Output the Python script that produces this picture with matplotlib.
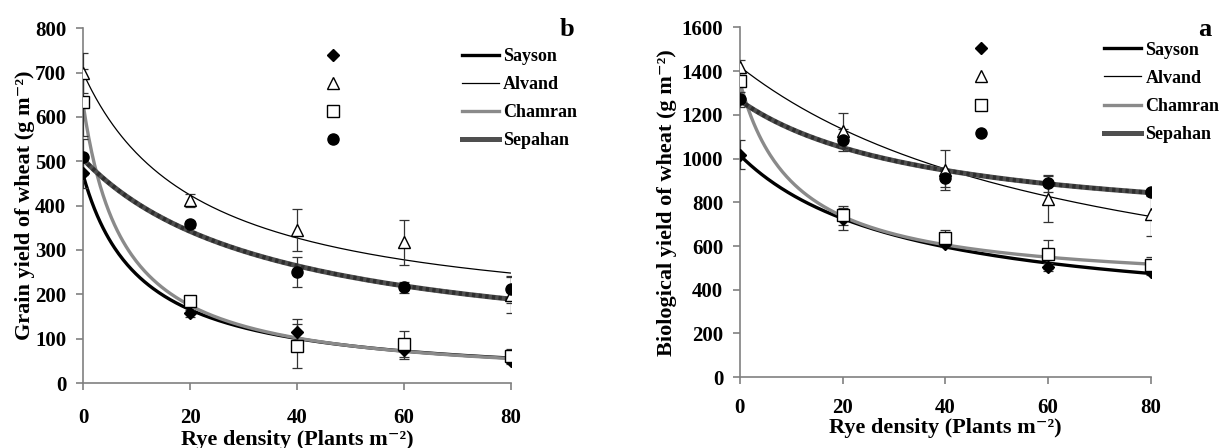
import numpy as np
import matplotlib
matplotlib.use("Agg")
import matplotlib.pyplot as plt
from matplotlib.lines import Line2D

plt.rcParams['font.family'] = ['Liberation Serif', 'DejaVu Serif']
plt.rcParams['font.weight'] = 'bold'

# rye density levels
density = [0, 20, 40, 60, 80]
cultivars = ['Sayson', 'Alvand', 'Chamran', 'Sepahan']

# grain yield (g m-2), panel b
grain = {
    'Sayson':  [474, 157, 114, 74, 50],
    'Alvand':  [699, 412, 345, 317, 198],
    'Chamran': [633, 185, 83, 88, 61],
    'Sepahan': [510, 358, 251, 216, 211],
}
grain_err = {
    'Sayson':  [35, 8, 30, 20, 8],
    'Alvand':  [45, 15, 47, 50, 40],
    'Chamran': [75, 8, 50, 30, 15],
    'Sepahan': [40, 8, 34, 12, 30],
}

# biological yield (g m-2), panel a
bio = {
    'Sayson':  [1018, 725, 610, 504, 481],
    'Alvand':  [1420, 1127, 947, 817, 748],
    'Chamran': [1354, 740, 637, 562, 512],
    'Sepahan': [1270, 1084, 909, 886, 845],
}
bio_err = {
    'Sayson':  [66, 50, 15, 20, 15],
    'Alvand':  [30, 80, 90, 105, 100],
    'Chamran': [20, 45, 35, 65, 40],
    'Sepahan': [35, 50, 40, 40, 15],
}

# fitted hyperbolic yield-loss curves: Y0, I, A
grain_fit = {
    'Sayson':  (470, 9.2, 100),
    'Alvand':  (700, 3.8, 82),
    'Chamran': (630, 13.0, 100),
    'Sepahan': (505, 2.5, 91),
}
bio_fit = {
    'Sayson':  (1015, 2.3, 75),
    'Alvand':  (1420, 1.3, 90),
    'Chamran': (1350, 6.5, 70),
    'Sepahan': (1265, 1.3, 49),
}

line_style = {
    'Sayson':  dict(color='black', lw=2.4),
    'Alvand':  dict(color='black', lw=0.9),
    'Chamran': dict(color='#8a8a8a', lw=2.4),
    'Sepahan': dict(color='#4f4f4f', lw=3.6),
}
marker_style = {
    'Sayson':  dict(marker='D', ms=6, mfc='black', mec='black'),
    'Alvand':  dict(marker='^', ms=9, mfc='white', mec='black', mew=1),
    'Chamran': dict(marker='s', ms=8, mfc='white', mec='black', mew=1),
    'Sepahan': dict(marker='o', ms=8, mfc='black', mec='black'),
}


def cousens(d, y0, i, a):
    return y0 * (1 - i * d / (100 * (1 + i * d / a)))


def panel(ax, vals, errs, fits, ymax, ystep, ylabel, letter, ylab_x, xlab_y,
          xpad, leg_y, let_y):
    d = np.linspace(0, 80, 300)
    for c in cultivars:
        ax.plot(d, cousens(d, *fits[c]), zorder=2, solid_capstyle='butt', **line_style[c])
        if c == 'Sepahan':
            ax.plot(d, cousens(d, *fits[c]), color='#2e2e2e', lw=3.0, dashes=(0.8, 0.8), zorder=2)
    for c in cultivars:
        ax.errorbar(density, vals[c], yerr=errs[c], fmt='none', ecolor='#333333',
                    elinewidth=0.9, capsize=3.5, capthick=0.9, zorder=3)
        ax.plot(density, vals[c], ls='none', zorder=4, **marker_style[c])

    ax.set_xlim(0, 80)
    ax.set_ylim(0, ymax)
    ax.set_xticks(density)
    ax.set_yticks(np.arange(0, ymax + 1, ystep))
    for s in ['top', 'right']:
        ax.spines[s].set_visible(False)
    for s in ['left', 'bottom']:
        ax.spines[s].set_color('#808080')
        ax.spines[s].set_linewidth(1.2)
    ax.tick_params(axis='x', direction='out', length=5, width=1.2, color='#808080',
                   pad=xpad, labelsize=15)
    ax.tick_params(axis='y', direction='out', length=5, width=1.2, color='#808080',
                   pad=7, labelsize=15)
    ax.set_ylabel(ylabel, fontsize=16, fontweight='bold')
    ax.yaxis.set_label_coords(ylab_x, 0.5)
    ax.set_xlabel('Rye density (Plants m⁻²)', fontsize=16, fontweight='bold')
    ax.xaxis.set_label_coords(0.5, xlab_y)

    handles = [Line2D([], [], **line_style[c]) for c in cultivars]
    leg = ax.legend(handles, cultivars, loc='upper left', bbox_to_anchor=(0.868, leg_y),
                    frameon=False, fontsize=13, handlelength=2.05, handletextpad=0.25,
                    labelspacing=0.62, borderaxespad=0)
    for t in leg.get_texts():
        t.set_fontweight('bold')
    ax.add_artist(leg)
    mhandles = [Line2D([], [], ls='none', **marker_style[c]) for c in cultivars]
    ax.legend(mhandles, ['', '', '', ''], loc='upper left', bbox_to_anchor=(0.547, leg_y),
              frameon=False, fontsize=13, handlelength=1, labelspacing=0.62,
              borderaxespad=0)
    ax.text(1.13, let_y, letter, transform=ax.transAxes, fontsize=19,
            fontweight='bold', ha='center', va='center')


fig = plt.figure(figsize=(12.21, 4.48), dpi=100)
ax1 = fig.add_axes([0.068, 0.145, 0.3505, 0.792])
ax2 = fig.add_axes([0.606, 0.158, 0.3366, 0.781])

panel(ax1, grain, grain_err, grain_fit, 800, 100, 'Grain yield of wheat (g m⁻²)', 'b',
      -0.112, -0.132, 13, 0.965, 0.995)
panel(ax2, bio, bio_err, bio_fit, 1600, 200, 'Biological yield of wheat (g m⁻²)', 'a',
      -0.153, -0.117, 10, 0.98, 0.995)

fig.savefig('out.png', dpi=100)
